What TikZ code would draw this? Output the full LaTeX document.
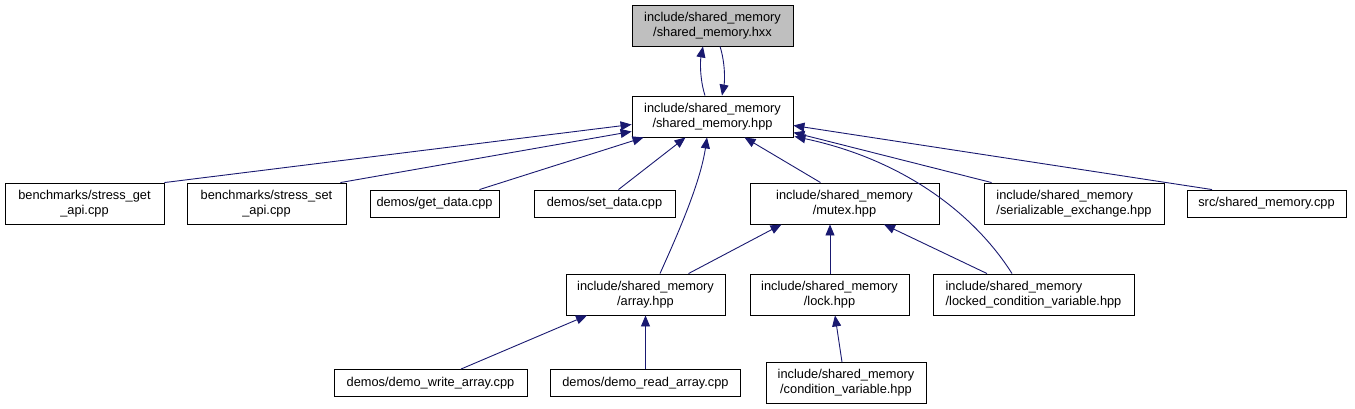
\documentclass[tikz,border=0pt]{standalone}
\usepackage{fontspec}
\setmainfont{Liberation Sans}
\usetikzlibrary{arrows.meta,calc}
\definecolor{edgeblue}{HTML}{191970}
\definecolor{nodegray}{HTML}{BFBFBF}
\begin{document}
\begin{tikzpicture}[x=1pt,y=-1pt,
  nbox/.style={draw=black, line width=0.9pt, inner sep=0pt, align=center,
    font=\fontsize{12.8}{15}\selectfont, fill=white},
  twoline/.style={minimum height=41pt},
  oneline/.style={minimum height=27pt},
  edge/.style={draw=edgeblue, line width=0.9pt, -{Triangle[length=11pt,width=9pt]}},
]
\useasboundingbox (0,0) rectangle (1355,409);

% row 1
\node[nbox, twoline, fill=nodegray, minimum width=161pt] (hxx) at (712.5,25.5) {include/shared\_memory\\/shared\_memory.hxx};
% row 2
\node[nbox, twoline, minimum width=161pt] (hpp) at (712.5,116.5) {include/shared\_memory\\/shared\_memory.hpp};
% row 3
\node[nbox, twoline, minimum width=159pt] (sget) at (84.5,203.5) {benchmarks/stress\_get\\\_api.cpp};
\node[nbox, twoline, minimum width=159pt] (sset) at (266.5,203.5) {benchmarks/stress\_set\\\_api.cpp};
\node[nbox, oneline, minimum width=129pt] (gdata) at (434.5,203.5) {demos/get\_data.cpp};
\node[nbox, oneline, minimum width=141pt] (sdata) at (604.5,203.5) {demos/set\_data.cpp};
\node[nbox, twoline, minimum width=189pt] (mutex) at (844.5,203.5) {include/shared\_memory\\/mutex.hpp};
\node[nbox, twoline, minimum width=180pt, align=left] (ser) at (1074,203.5) {include/shared\_memory\\/serializable\_exchange.hpp};
\node[nbox, oneline, minimum width=159pt] (src) at (1266.5,203.5) {src/shared\_memory.cpp};
% row 4
\node[nbox, twoline, minimum width=159pt] (array) at (645.5,294.5) {include/shared\_memory\\/array.hpp};
\node[nbox, twoline, minimum width=159pt] (lock) at (829.5,294.5) {include/shared\_memory\\/lock.hpp};
\node[nbox, twoline, minimum width=201pt, align=left] (lcv) at (1033.5,294.5) {include/shared\_memory\\/locked\_condition\_variable.hpp};
% row 5
\node[nbox, oneline, minimum width=193pt] (dw) at (430.5,383) {demos/demo\_write\_array.cpp};
\node[nbox, oneline, minimum width=190pt] (dr) at (645.5,383) {demos/demo\_read\_array.cpp};
\node[nbox, twoline, minimum width=160pt] (cv) at (846,383) {include/shared\_memory\\/condition\_variable.hpp};

% hxx <-> hpp
\draw[edge] ($(hpp.north)+(-7.5,0)$) .. controls (700,80) and (700,62) .. ($(hxx.south)+(-9.5,0)$);
\draw[edge] ($(hxx.south)+(7.5,0)$) .. controls (725,62) and (725,80) .. ($(hpp.north)+(9.5,0)$);

% into hpp
\draw[edge] (sget.north east) -- ($(hpp.west)+(0,8)$);
\draw[edge] ($(sset.north east)+(-6,0)$) -- ($(hpp.west)+(0,15)$);
\draw[edge] ($(gdata.north)+(45,0)$) -- ($(hpp.south west)+(12,0)$);
\draw[edge] ($(sdata.north)+(14,0)$) -- ($(hpp.south)+(-27,0)$);
\draw[edge] ($(array.north)+(14.5,0)$) .. controls (675,240) and (700,185) .. ($(hpp.south)+(-5.5,0)$);
\draw[edge] ($(mutex.north)+(-24,0)$) -- ($(hpp.south)+(32,0)$);
\draw[edge] ($(lcv.north)+(-21.5,0)$) .. controls (975,215) and (905,160) .. ($(hpp.south east)+(1,-1)$);
\draw[edge] ($(ser.north west)+(8,0)$) -- ($(hpp.east)+(0,16)$);
\draw[edge] ($(src.north)+(-54.5,0)$) -- ($(hpp.east)+(0,9)$);

% into mutex
\draw[edge] ($(array.north)+(43,0)$) -- ($(mutex.south)+(-63,0)$);
\draw[edge] ($(lock.north)+(0.5,0)$) -- ($(mutex.south)+(-14.5,0)$);
\draw[edge] ($(lcv.north)+(-46.5,0)$) -- ($(mutex.south)+(39.5,0)$);

% into array
\draw[edge] ($(dw.north)+(30.5,0)$) -- ($(array.south)+(-58.5,0)$);
\draw[edge] (dr.north) -- (array.south);

% into lock
\draw[edge] ($(cv.north)+(-4,0)$) -- ($(lock.south)+(5.5,0)$);
\end{tikzpicture}
\end{document}
